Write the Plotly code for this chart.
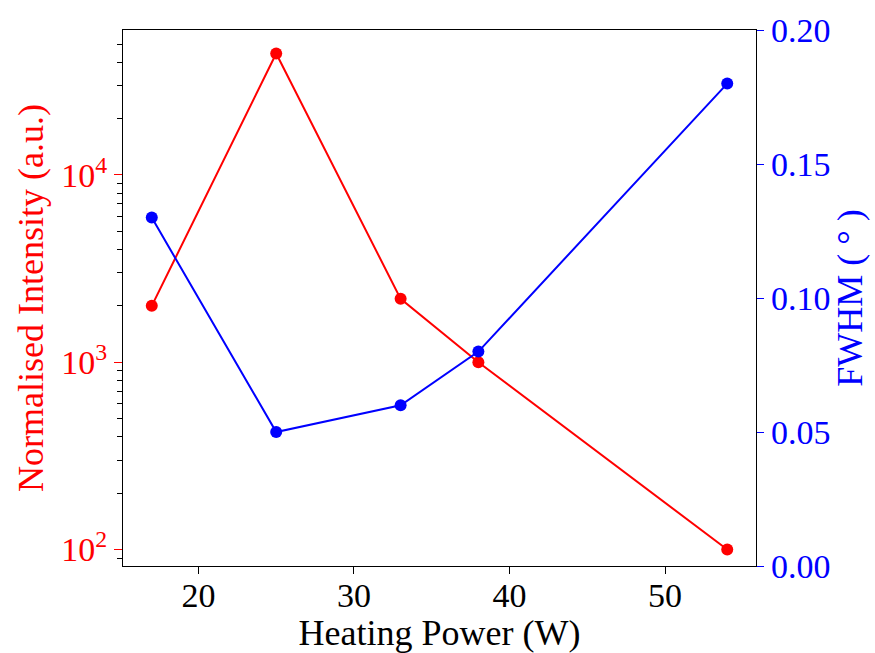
import plotly.graph_objects as go

# Heating power (W)
power = [17, 25, 33, 38, 54]
# Normalised intensity (a.u.), log scale
intensity = [2000, 44500, 2180, 1000, 100]
# FWHM (degrees)
fwhm = [0.13, 0.05, 0.06, 0.08, 0.18]

x_ticks = [20, 30, 40, 50]
y_major = [100, 1000, 10000]
y_major_text = ["10<sup>2</sup>", "10<sup>3</sup>", "10<sup>4</sup>"]
y_minor = [m * 10 ** d for d in range(1, 5) for m in range(2, 10)]
y2_ticks = [0.00, 0.05, 0.10, 0.15, 0.20]

FONT = "Liberation Serif, Times New Roman, serif"

fig = go.Figure()
fig.add_trace(go.Scatter(
    x=power, y=intensity, mode="lines+markers",
    line=dict(color="red", width=2),
    marker=dict(color="red", size=12),
    yaxis="y", showlegend=False,
))
fig.add_trace(go.Scatter(
    x=power, y=fwhm, mode="lines+markers",
    line=dict(color="blue", width=2),
    marker=dict(color="blue", size=12),
    yaxis="y2", showlegend=False,
))

fig.update_layout(
    width=875, height=653,
    margin=dict(l=123, r=119, t=30, b=87),
    paper_bgcolor="white", plot_bgcolor="white",
    font=dict(family=FONT, size=34, color="black"),
    xaxis=dict(
        automargin=False,
        range=[15.15, 55.85],
        tickvals=x_ticks,
        ticks="outside", ticklen=7, tickwidth=1.3, tickcolor="black",
        ticklabelstandoff=-8,
        showline=True, linecolor="black", linewidth=1.3, mirror=True,
        showgrid=False, zeroline=False,
        tickfont=dict(family=FONT, size=34, color="black"),
        title=dict(text="Heating Power (W)", standoff=12,
                   font=dict(family=FONT, size=36, color="black")),
    ),
    yaxis=dict(
        automargin=False,
        type="log",
        range=[1.912, 4.774],
        tickmode="array", tickvals=y_major, ticktext=y_major_text,
        ticks="outside", ticklen=8, tickwidth=1.3, tickcolor="red",
        minor=dict(tickmode="array", tickvals=y_minor, ticks="outside",
                   ticklen=5, tickwidth=1.1, tickcolor="black", showgrid=False),
        showline=True, linecolor="black", linewidth=1.3,
        showgrid=False, zeroline=False,
        tickfont=dict(family=FONT, size=34, color="red"),
        title=dict(text="Normalised Intensity (a.u.)", standoff=6,
                   font=dict(family=FONT, size=36, color="red")),
    ),
    yaxis2=dict(
        automargin=False,
        overlaying="y", side="right",
        range=[0, 0.2],
        tickvals=y2_ticks, tickformat=".2f",
        ticks="outside", ticklen=7, tickwidth=1.3, tickcolor="blue",
        showline=True, linecolor="black", linewidth=1.3,
        showgrid=False, zeroline=False,
        tickfont=dict(family=FONT, size=34, color="blue"),
        title=dict(text="FWHM ( ° )", standoff=6,
                   font=dict(family=FONT, size=36, color="blue")),
    ),
)

fig.write_html("out.html")
